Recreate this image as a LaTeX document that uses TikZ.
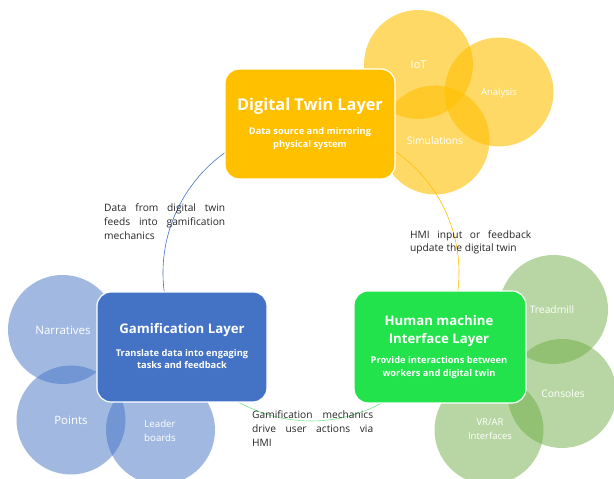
\documentclass[tikz,border=0pt]{standalone}
\usepackage{fontspec}
\setmainfont{Open Sans}
\definecolor{dtyellow}{RGB}{255,192,0}
\definecolor{gamblue}{RGB}{68,114,196}
\definecolor{hmigreen}{RGB}{34,227,76}
\definecolor{leafgreen}{RGB}{112,173,71}
\definecolor{ringgreen}{RGB}{120,230,140}
\begin{document}
\begin{tikzpicture}[x=1pt,y=1pt,
  layerbox/.style={draw=white, line width=1.2pt, rounded corners=14pt, minimum width=170pt, minimum height=110pt, inner sep=0pt},
  bubble/.style={circle, minimum size=109pt, inner sep=0pt},
  bublabel/.style={text=white, align=center, font=\fontsize{10.3}{13}\selectfont, inner sep=0pt},
  title/.style={text=white, align=center, font=\fontsize{13.2}{18}\selectfont\bfseries, inner sep=0pt},
  subtitle/.style={text=white, align=center, font=\fontsize{9.3}{12.5}\selectfont\bfseries, inner sep=0pt},
  note/.style={anchor=north west, inner sep=0pt, align=left, font=\fontsize{10.2}{14}\selectfont, text=black!85},
  ring/.style={line width=0.6pt}
]
\useasboundingbox (0,0) rectangle (614,479);
\coordinate (ringc) at (311,206);

% yellow bubbles
\node[bubble, fill=dtyellow, fill opacity=0.6] (iot) at (418.5,414.5) {};
\node[bubble, fill=dtyellow, fill opacity=0.6] (ana) at (499,387) {};
\node[bubble, fill=dtyellow, fill opacity=0.6] (sim) at (435,339) {};
% blue bubbles
\node[bubble, fill=gamblue, fill opacity=0.5] (nar) at (62.5,149.5) {};
\node[bubble, fill=gamblue, fill opacity=0.5] (pts) at (71,59) {};
\node[bubble, fill=gamblue, fill opacity=0.5] (ldr) at (160.5,49) {};
% green bubbles
\node[bubble, fill=leafgreen, fill opacity=0.5] (trd) at (553.5,169.5) {};
\node[bubble, fill=leafgreen, fill opacity=0.5] (con) at (562,85.5) {};
\node[bubble, fill=leafgreen, fill opacity=0.5] (vr) at (489,49) {};

% ring connectors
\draw[ring, gamblue] ([shift={(122:148pt)}]ringc) arc[start angle=122, end angle=192, radius=148pt];
\draw[ring, dtyellow] ([shift={(60:148pt)}]ringc) arc[start angle=60, end angle=-10, radius=148pt];
\draw[ring, ringgreen] ([shift={(235:148pt)}]ringc) arc[start angle=235, end angle=305, radius=148pt];

% bubble labels
\node[bublabel, font=\fontsize{10.8}{13}\selectfont] (iott) at (iot) {IoT};
\node[bublabel, font=\fontsize{9.5}{13}\selectfont] (anat) at (499,386) {Analysis};
\node[bublabel] (simt) at (435,338) {Simulations};
\node[bublabel, font=\fontsize{11.5}{13}\selectfont] (nart) at (63,149) {Narratives};
\node[bublabel, font=\fontsize{11.5}{13}\selectfont] (ptst) at (71,59) {Points};
\node[bublabel, font=\fontsize{9.7}{14}\selectfont] (ldrt) at (160,48) {Leader\\boards};
\node[bublabel] (trdt) at (552,169) {Treadmill};
\node[bublabel] (cont) at (563,85) {Consoles};
\node[bublabel, font=\fontsize{9.5}{14.5}\selectfont] (vrt) at (490,50) {VR/AR\\Interfaces};

% layer boxes
\node[layerbox, fill=dtyellow] (dt) at (310,355) {};
\node[layerbox, fill=gamblue] (gam) at (182,132) {};
\node[layerbox, fill=hmigreen, minimum width=172pt, minimum height=112pt] (hmi) at (440,132) {};

\node[title, font=\fontsize{16.3}{20}\selectfont\bfseries] (dtt) at (310,373) {Digital Twin Layer};
\node[subtitle] (dts) at (310,340.5) {Data source and mirroring\\physical system};
\node[title] (gamt) at (182,149) {Gamification Layer};
\node[subtitle] (gams) at (182,120) {Translate data into engaging\\tasks and feedback};
\node[title] (hmit) at (439,148) {Human machine\\Interface Layer};
\node[subtitle] (hmis) at (439,111.5) {Provide interactions between\\workers and digital twin};

% notes
\node[note] (n1) at (104,275) {\makebox[121pt][s]{Data from digital twin}\\\makebox[121pt][s]{feeds into gamification}\\mechanics};
\node[note] (n2) at (410,249) {\makebox[121pt][s]{HMI input or feedback}\\update the digital twin};
\node[note] (n3) at (252,69) {\makebox[121pt][s]{Gamification mechanics}\\\makebox[121pt][s]{drive user actions via}\\HMI};
\end{tikzpicture}
\end{document}
